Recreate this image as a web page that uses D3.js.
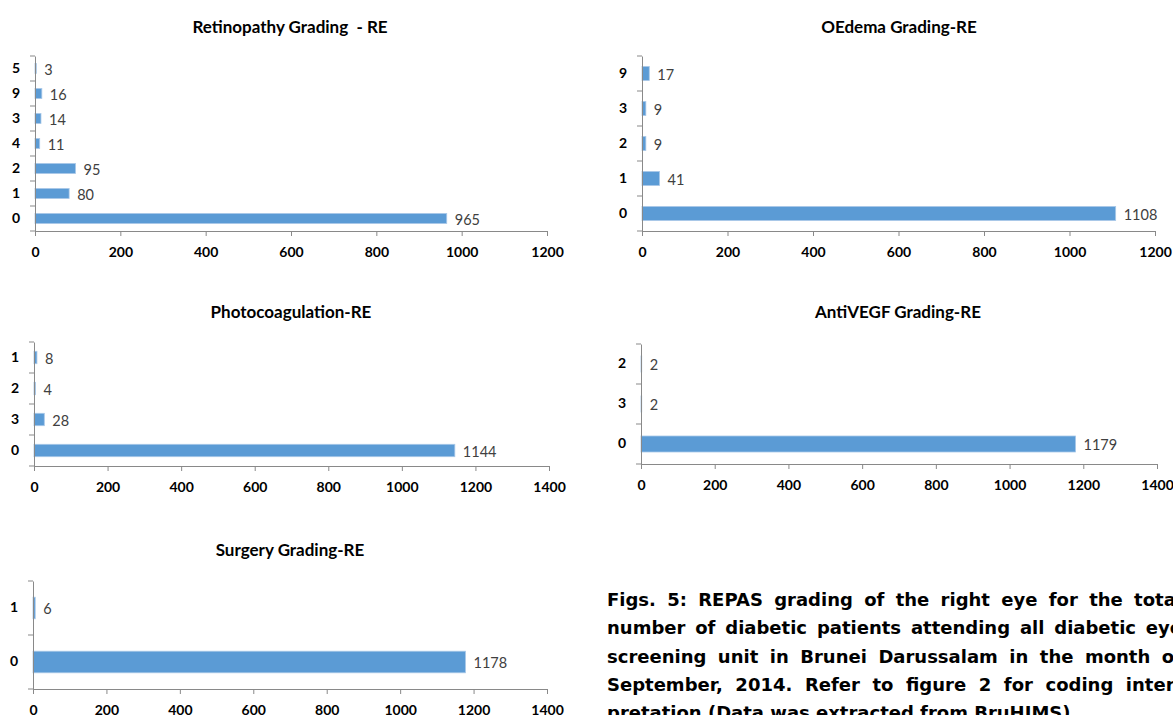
<!DOCTYPE html>
<html>
<head>
<meta charset="utf-8">
<script src="https://cdn.jsdelivr.net/npm/d3@7"></script>
<style>
  body { margin: 0; background: #fff; overflow: hidden; }
  svg { display: block; }
</style>
</head>
<body>
<script>
// data
const retinoCats = ['5', '9', '3', '4', '2', '1', '0'];
const retinoVals = [3, 16, 14, 11, 95, 80, 965];
const oedemaCats = ['9', '3', '2', '1', '0'];
const oedemaVals = [17, 9, 9, 41, 1108];
const photoCats = ['1', '2', '3', '0'];
const photoVals = [8, 4, 28, 1144];
const antiCats = ['2', '3', '0'];
const antiVals = [2, 2, 1179];
const surgCats = ['1', '0'];
const surgVals = [6, 1178];
const titles = ['Retinopathy Grading  - RE', 'OEdema Grading-RE', 'Photocoagulation-RE', 'AntiVEGF Grading-RE', 'Surgery Grading-RE'];
const captionLines = [
  'Figs. 5: REPAS grading of the right eye for the total',
  'number of diabetic patients attending all diabetic eye',
  'screening unit in Brunei Darussalam in the month of',
  'September, 2014. Refer to figure 2 for coding inter-',
  'pretation (Data was extracted from BruHIMS).'
];

const W = 1173, H = 715;
const svg = d3.select('body').append('svg').attr('width', W).attr('height', H);

const BAR = '#5b9bd5';
const AXIS = '#898989';
const LABEL_FONT = 'Lato, "Open Sans", sans-serif';

// panel layout: axis origin / extent and title anchor
const panels = [
  { cats: retinoCats, vals: retinoVals, max: 1200, x0: 35, x1: 547, y0: 56, y1: 231, tx: 290, ty: 33 },
  { cats: oedemaCats, vals: oedemaVals, max: 1200, x0: 642, x1: 1155, y0: 56, y1: 231, tx: 899, ty: 33 },
  { cats: photoCats, vals: photoVals, max: 1400, x0: 34, x1: 549, y0: 342, y1: 466, tx: 291, ty: 318 },
  { cats: antiCats, vals: antiVals, max: 1400, x0: 641, x1: 1157, y0: 344, y1: 464, tx: 898, ty: 318 },
  { cats: surgCats, vals: surgVals, max: 1400, x0: 33, x1: 547, y0: 581, y1: 689, tx: 290, ty: 556 }
];

panels.forEach((p, i) => {
  const g = svg.append('g');
  const x = d3.scaleLinear().domain([0, p.max]).range([p.x0, p.x1]);
  const y = d3.scaleBand().domain(p.cats).range([p.y0, p.y1]).paddingInner(0.6).paddingOuter(0.3);
  const step = y.step();

  // title
  g.append('text')
    .attr('x', p.tx).attr('y', p.ty)
    .attr('text-anchor', 'middle')
    .style('white-space', 'pre')
    .attr('font-family', LABEL_FONT)
    .attr('font-weight', 'bold')
    .attr('font-size', 17)
    .attr('fill', '#000')
    .text(titles[i]);

  // bars
  const data = p.cats.map((c, j) => ({ cat: c, val: p.vals[j] }));
  g.selectAll('rect.bar').data(data).join('rect')
    .attr('class', 'bar')
    .attr('x', x(0))
    .attr('y', d => y(d.cat))
    .attr('width', d => x(d.val) - x(0))
    .attr('height', y.bandwidth())
    .attr('fill', BAR)
    .attr('stroke', '#a9c8e8')
    .attr('stroke-width', 0.8);

  // value labels
  g.selectAll('text.val').data(data).join('text')
    .attr('class', 'val')
    .attr('x', d => x(d.val) + 8)
    .attr('y', d => y(d.cat) + y.bandwidth() / 2 + 6)
    .attr('font-family', LABEL_FONT)
    .attr('font-size', 14.5)
    .attr('fill', '#404040')
    .text(d => d.val);

  // value axis
  const xAxis = d3.axisBottom(x)
    .tickValues(d3.range(0, p.max + 1, 200))
    .tickFormat(d3.format('d'))
    .tickSize(5).tickPadding(11).tickSizeOuter(0);
  const xa = g.append('g').attr('transform', `translate(0,${p.y1})`).call(xAxis);
  xa.select('.domain').attr('stroke', AXIS);
  xa.selectAll('.tick line').attr('stroke', AXIS);
  xa.selectAll('.tick text')
    .attr('font-family', LABEL_FONT).attr('font-weight', 'bold')
    .attr('font-size', 14).attr('fill', '#000');

  // category axis
  const ya = g.append('g').attr('transform', `translate(${p.x0},0)`)
    .call(d3.axisLeft(y).tickSize(0).tickPadding(15));
  ya.select('.domain').attr('stroke', AXIS);
  ya.selectAll('.tick text')
    .attr('font-family', LABEL_FONT).attr('font-weight', 'bold')
    .attr('font-size', 14).attr('fill', '#000');
  ya.selectAll('line.cat-tick').data(d3.range(p.cats.length + 1)).join('line')
    .attr('class', 'cat-tick')
    .attr('x1', -5).attr('x2', 0)
    .attr('y1', k => p.y0 + k * step).attr('y2', k => p.y0 + k * step)
    .attr('stroke', AXIS);
});

// caption, justified line by line (runs past the right edge like the source)
const capX = 607, capW = 575;
const cap = svg.append('g')
  .attr('font-family', '"DejaVu Sans", Verdana, sans-serif')
  .attr('font-weight', 'bold')
  .attr('font-size', 18)
  .attr('fill', '#000');
captionLines.forEach((line, k) => {
  const t = cap.append('text')
    .attr('x', capX)
    .attr('y', 606 + k * 28.3)
    .text(line);
  if (k < captionLines.length - 1) {
    const natural = t.node().getComputedTextLength();
    const spaces = line.split(' ').length - 1;
    t.attr('word-spacing', Math.max(0, (capW - natural) / spaces));
  }
});
</script>
</body>
</html>
